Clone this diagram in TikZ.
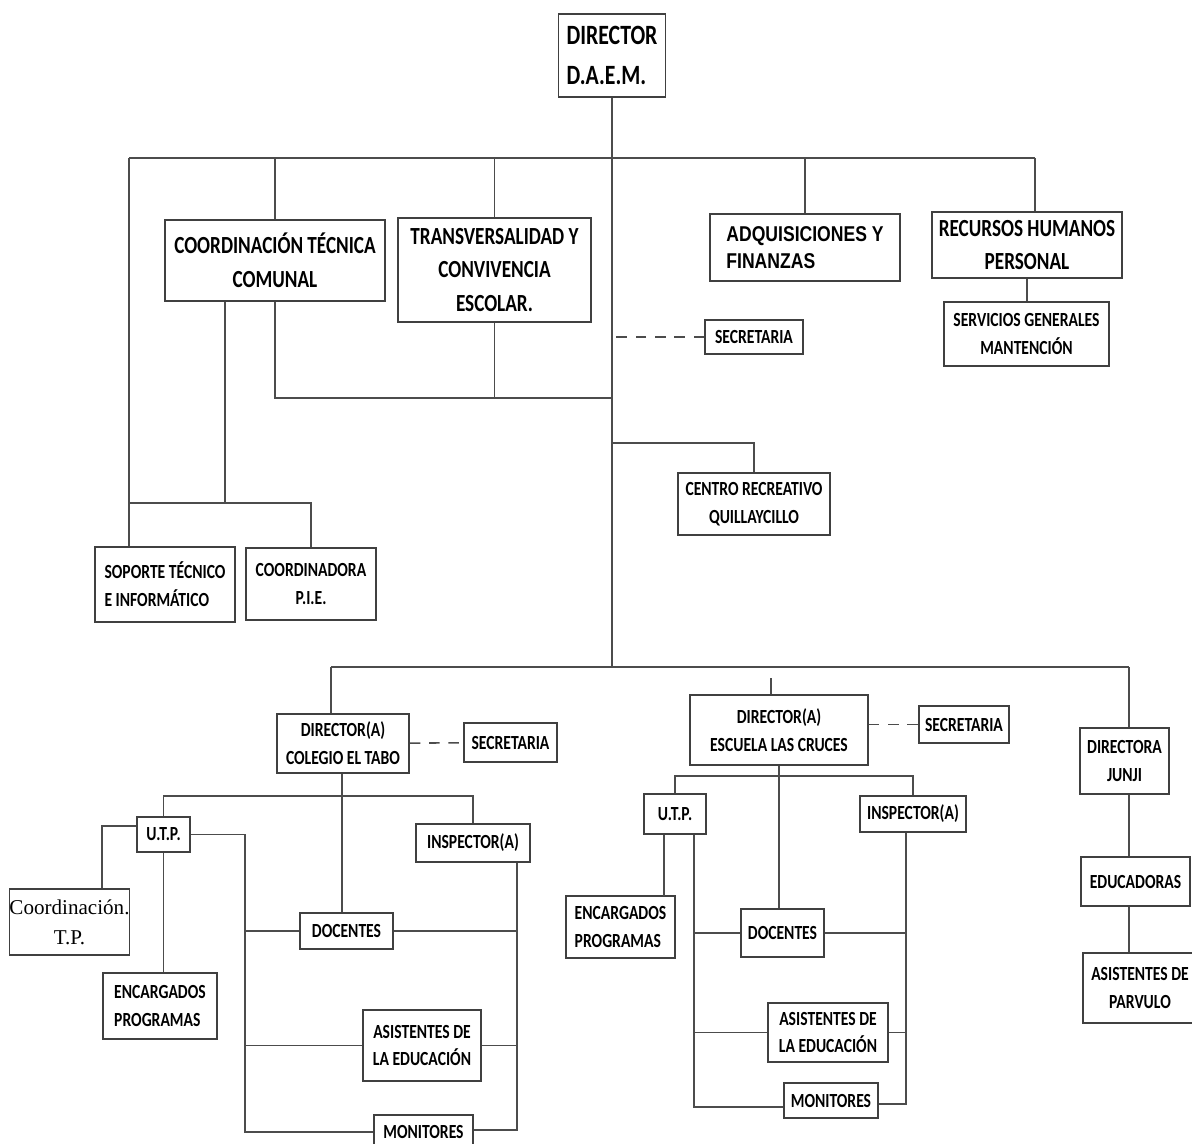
\documentclass[tikz,border=0pt]{standalone}
\usepackage{fontspec}
\newfontfamily\orgfont{Carlito}[FakeStretch=0.78]
\newfontfamily\adqfont{Liberation Sans}[FakeStretch=0.82]
\newfontfamily\tpfont{Liberation Serif}
\usetikzlibrary{positioning}

\begin{document}
\begin{tikzpicture}[x=0.02cm,y=-0.02cm,
  wh/.style 2 args={minimum width=#1*0.02cm,minimum height=#2*0.02cm},
  unit/.style={draw=black!75,line width=0.9pt,inner sep=0pt,align=center,text=black,
    font=\orgfont\bfseries\fontsize{11.4}{15.9}\selectfont},
  bigunit/.style={unit,font=\orgfont\bfseries\fontsize{14}{19.3}\selectfont},
  link/.style={draw=black!70,line width=0.9pt},
  aux/.style={link,dashed,dash pattern=on 6pt off 5pt}]
\useasboundingbox[fill=white] (0,0) rectangle (1192,1143);
% upper part
\node[bigunit,wh={107}{83},align=left,font=\orgfont\bfseries\fontsize{15.9}{23}\selectfont] (daem) at (612,55.5) {DIRECTOR\\D.A.E.M.};
\node[bigunit,wh={220}{81}] (coord) at (275,260.5) {COORDINACIÓN TÉCNICA\\COMUNAL};
\node[bigunit,wh={193}{104}] (transv) at (494.5,270) {TRANSVERSALIDAD Y\\CONVIVENCIA\\ESCOLAR.};
\node[bigunit,wh={190}{67},align=left,font=\adqfont\bfseries\fontsize{12.2}{15.5}\selectfont] (adq) at (805,247.5) {ADQUISICIONES Y\\FINANZAS};
\node[bigunit,wh={190}{66}] (rrhh) at (1027,245) {RECURSOS HUMANOS\\PERSONAL};
\node[unit,wh={165}{64}] (serv) at (1026.5,334) {SERVICIOS GENERALES\\MANTENCIÓN};
\node[unit,wh={98}{34}] (sec1) at (754,337) {SECRETARIA};
\node[unit,wh={152}{62}] (centro) at (754,504) {CENTRO RECREATIVO\\QUILLAYCILLO};
\node[unit,wh={140}{75},align=left] (soporte) at (165,584.5) {SOPORTE TÉCNICO\\E INFORMÁTICO};
\node[unit,wh={130}{72}] (pie) at (311,584) {COORDINADORA\\P.I.E.};
\coordinate (busL) at (129,158);
\coordinate (busR) at (1035,158);
\coordinate (midj) at (612,398);
\coordinate (cj) at (612,443);
\coordinate (pieL) at (225,503);
\coordinate (trunk) at (612,667);
\draw[link] (daem) -- (trunk);
\draw[link] (busL) -- (busR);
\draw[link] (coord.north) -- (coord.north |- busL);
\draw[link] (transv.north) -- (transv.north |- busL);
\draw[link] (adq.north) -- (adq.north |- busL);
\draw[link] (busR) -- (busR |- rrhh.north);
\draw[link] (rrhh.south) -- (rrhh.south |- serv.north);
\draw[aux] (sec1.west) -- (sec1.west -| daem);
\draw[link] (coord.south) |- (midj);
\draw[link] (transv.south) -- (transv.south |- midj);
\draw[link] (cj) -| (centro.north);
\draw[link] (busL) -- (busL |- soporte.north);
\draw[link] (coord.south -| pieL) -- (pieL);
\draw[link] (busL |- pieL) -| (pie.north);
% schools
\node[unit,wh={132}{59}] (tabo) at (343,743.5) {DIRECTOR(A)\\COLEGIO EL TABO};
\node[unit,wh={93}{39}] (sec2) at (510.5,742.5) {SECRETARIA};
\node[unit,wh={53}{35}] (utp1) at (163.5,834.5) {U.T.P.};
\node[unit,wh={113}{66},font=\tpfont\fontsize{12}{17}\selectfont] (tp) at (69.5,922) {Coordinación.\\T.P.};
\node[unit,wh={114}{66},align=left] (enc1) at (160,1006) {ENCARGADOS\\PROGRAMAS};
\node[unit,wh={93}{36}] (doc1) at (346.5,931) {DOCENTES};
\node[unit,wh={118}{71}] (asis1) at (422,1045.5) {ASISTENTES DE\\LA EDUCACIÓN};
\node[unit,wh={99}{34},anchor=north] (mon1) at (423.5,1114) {MONITORES};
\node[unit,wh={114}{38}] (insp1) at (473,843) {INSPECTOR(A)};
\node[unit,wh={178}{70}] (escuela) at (779,730) {DIRECTOR(A)\\ESCUELA LAS CRUCES};
\node[unit,wh={90}{37}] (sec3) at (964,724.5) {SECRETARIA};
\node[unit,wh={62}{40}] (utp2) at (675,814) {U.T.P.};
\node[unit,wh={109}{62},align=left] (enc2) at (620.5,927) {ENCARGADOS\\PROGRAMAS};
\node[unit,wh={83}{48}] (doc2) at (782.5,933) {DOCENTES};
\node[unit,wh={120}{59}] (asis2) at (828,1032.5) {ASISTENTES DE\\LA EDUCACIÓN};
\node[unit,wh={94}{35}] (mon2) at (831,1100.5) {MONITORES};
\node[unit,wh={106}{36}] (insp2) at (913,814) {INSPECTOR(A)};
\node[unit,wh={89}{66}] (junji) at (1124.5,761) {DIRECTORA\\JUNJI};
\node[unit,wh={109}{49}] (educ) at (1135.5,881.5) {EDUCADORAS};
\node[unit,wh={114}{70}] (parv) at (1140,988) {ASISTENTES DE\\PARVULO};
\coordinate (bbL) at (331,667);
\coordinate (bbR) at (1129,667);
\coordinate (escTop) at (771,678);
\coordinate (tb) at (342,796);
\coordinate (tpj) at (102,826);
\coordinate (sp1) at (245,1132);
\coordinate (sq1) at (517,1130);
\coordinate (eb) at (779,776);
\coordinate (ej) at (664,896);
\coordinate (sp2) at (694,1107);
\coordinate (sq2) at (906,1104);
\draw[link] (bbL) -- (bbR);
\draw[link] (bbL) -- (bbL |- tabo.north);
\draw[link] (escTop) -- (escTop |- escuela.north);
\draw[link] (bbR) -- (bbR |- junji.north);
\draw[aux] (tabo) -- (sec2);
\draw[aux] (sec3.west -| escuela.east) -- (sec3.west);
% colegio el tabo
\draw[link] (tabo.south -| tb) -- (tb);
\draw[link] (utp1.north) |- (tb) -| (insp1.north);
\draw[link] (tb) -- (tb |- doc1.north);
\draw[link] (utp1.west |- tpj) -- (tpj) -- (tpj |- tp.north);
\draw[link] (utp1.south) -- (utp1.south |- enc1.north);
\draw[link] (utp1.east) -| (sp1) -- (sp1 -| mon1.west);
\draw[link] (doc1.west) -- (doc1.west -| sp1);
\draw[link] (asis1.west) -- (asis1.west -| sp1);
\draw[link] (insp1.south -| sq1) -- (sq1) -- (sq1 -| mon1.east);
\draw[link] (doc1.east) -- (doc1.east -| sq1);
\draw[link] (asis1.east) -- (asis1.east -| sq1);
% escuela las cruces
\draw[link] (escuela.south) -- (eb);
\draw[link] (utp2.north) |- (eb) -| (insp2.north);
\draw[link] (eb) -- (eb |- doc2.north);
\draw[link] (utp2.south -| ej) -- (ej);
\draw[link] (utp2.south -| sp2) -- (sp2) -- (sp2 -| mon2.west);
\draw[link] (doc2.west) -- (doc2.west -| sp2);
\draw[link] (asis2.west) -- (asis2.west -| sp2);
\draw[link] (insp2.south -| sq2) -- (sq2) -- (sq2 -| mon2.east);
\draw[link] (doc2.east) -- (doc2.east -| sq2);
\draw[link] (asis2.east) -- (asis2.east -| sq2);
% junji
\draw[link] (junji.south -| bbR) -- (educ.north -| bbR);
\draw[link] (educ.south -| bbR) -- (parv.north -| bbR);
\end{tikzpicture}
\end{document}
